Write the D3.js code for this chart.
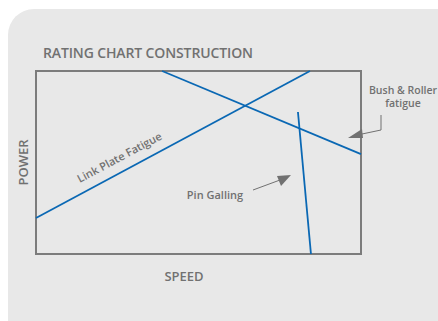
<!DOCTYPE html>
<html>
<head>
<meta charset="utf-8">
<script src="https://cdn.jsdelivr.net/npm/d3@7"></script>
<style>
  body { margin: 0; background: #fff; }
  svg { display: block; font-family: "Open Sans", "Lato", sans-serif; }
</style>
</head>
<body>
<div id="chart"></div>
<script>
// chart data (relative speed / power units, 0-100)
const curveNames = ["Link Plate Fatigue", "Bush & Roller fatigue", "Pin Galling"]
const curveStart = [[0, 19.7], [38.8, 100], [80.6, 77.6]]
const curveEnd = [[84.3, 100], [100, 54.6], [84.6, 0]]
const bushLabelLines = ["Bush & Roller", "fatigue"]
const axisTitles = ["SPEED", "POWER"]
const chartTitle = "RATING CHART CONSTRUCTION"

const width = 438
const height = 321
const box = { left: 36, right: 361, top: 71, bottom: 254 }
const grey = "#717171"
const blue = "#0a68b4"

const x = d3.scaleLinear().domain([0, 100]).range([box.left, box.right])
const y = d3.scaleLinear().domain([0, 100]).range([box.bottom, box.top])

const svg = d3.select("#chart").append("svg")
  .attr("width", width)
  .attr("height", height)

// background panel
svg.append("rect")
  .attr("x", 8).attr("y", 9)
  .attr("width", 470).attr("height", 350)
  .attr("rx", 26)
  .attr("fill", "#e8e8e8")

svg.append("text")
  .attr("x", 43).attr("y", 58)
  .attr("fill", grey)
  .attr("font-size", 14)
  .attr("font-weight", 600)
  .attr("textLength", 210)
  .text(chartTitle)

// plot frame
svg.append("rect")
  .attr("x", x(0)).attr("y", y(100))
  .attr("width", x(100) - x(0)).attr("height", y(0) - y(100))
  .attr("fill", "none")
  .attr("stroke", "#7c7c7c")
  .attr("stroke-width", 2)

// curves
const curves = curveNames.map((name, i) => ({ name, a: curveStart[i], b: curveEnd[i] }))
svg.append("g")
  .selectAll("line")
  .data(curves)
  .join("line")
  .attr("x1", d => x(d.a[0])).attr("y1", d => y(d.a[1]))
  .attr("x2", d => x(d.b[0])).attr("y2", d => y(d.b[1]))
  .attr("stroke", blue)
  .attr("stroke-width", 1.8)

// axis titles
svg.append("text")
  .attr("x", 184).attr("y", 281)
  .attr("text-anchor", "middle")
  .attr("fill", grey).attr("font-size", 13).attr("font-weight", 600)
  .text(axisTitles[0])

svg.append("text")
  .attr("transform", `translate(28, ${(y(0) + y(100)) / 2}) rotate(-90)`)
  .attr("text-anchor", "middle")
  .attr("fill", grey).attr("font-size", 13).attr("font-weight", 600)
  .text(axisTitles[1])

// Link Plate label along its line
const lp = curves[0]
const ang = Math.atan2(y(lp.b[1]) - y(lp.a[1]), x(lp.b[0]) - x(lp.a[0])) * 180 / Math.PI
const lx = 27.7
const ly = d3.scaleLinear().domain([lp.a[0], lp.b[0]]).range([lp.a[1], lp.b[1]])(lx)
svg.append("text")
  .attr("transform", `translate(${x(lx)}, ${y(ly)}) rotate(${ang})`)
  .attr("y", -10)
  .attr("text-anchor", "middle")
  .attr("fill", grey).attr("font-size", 11).attr("font-weight", 600)
  .text(lp.name)

// Pin Galling label + arrow
svg.append("text")
  .attr("x", 215).attr("y", 199)
  .attr("text-anchor", "middle")
  .attr("fill", grey).attr("font-size", 11).attr("font-weight", 600)
  .text(curves[2].name)

svg.append("line")
  .attr("x1", 253).attr("y1", 190).attr("x2", 280).attr("y2", 180)
  .attr("stroke", grey).attr("stroke-width", 1)
svg.append("path")
  .attr("d", "M291,175 L277,176 L281,186 Z")
  .attr("fill", grey)

// Bush & Roller label (two lines) + arrow
svg.append("g")
  .selectAll("text")
  .data(bushLabelLines)
  .join("text")
  .attr("x", 403)
  .attr("y", (d, i) => 93.5 + i * 13.5)
  .attr("text-anchor", "middle")
  .attr("fill", grey).attr("font-size", 10.5).attr("font-weight", 600)
  .text(d => d)

svg.append("path")
  .attr("d", "M381,115 L381,130 L362,134")
  .attr("fill", "none")
  .attr("stroke", grey).attr("stroke-width", 1)
svg.append("path")
  .attr("d", "M348,138 L362,129 L363,138 Z")
  .attr("fill", grey)
</script>
</body>
</html>
